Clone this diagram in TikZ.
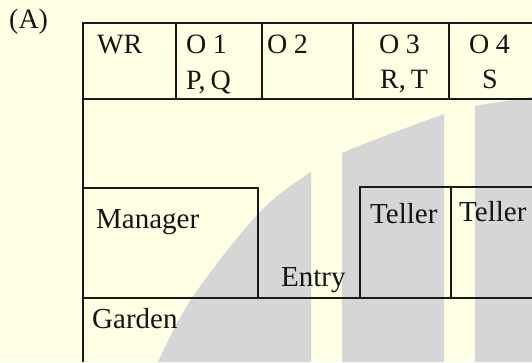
\documentclass[tikz,border=0pt]{standalone}
\usepackage{fontspec}
\setmainfont{Liberation Serif}
\definecolor{paper}{HTML}{FFFFE3}
\definecolor{wmgray}{HTML}{D6D6D6}
\newcommand{\gapO}{\hspace{6.5pt}}
\begin{document}
\begin{tikzpicture}[x=1pt,y=-1pt,
  wall/.style={draw=black!90,line width=1.3pt},
  lbl/.style={anchor=base west,inner sep=0pt,font=\fontsize{28}{28}\selectfont,text=black!92},
  wordlbl/.style={lbl,font=\fontsize{29}{29}\selectfont}]
\useasboundingbox (0,0) rectangle (532,362);
\fill[paper] (0,0) rectangle (532,362);
% watermark bands
\begin{scope}
  \clip (0,0) rectangle (311,362) (342,0) rectangle (444,362) (475,0) rectangle (532,362);
  \fill[wmgray] plot[smooth,tension=0.6] coordinates {(158,362) (192,298) (258,214) (309,173) (342,153) (444,114) (475,106) (532,97)} -- (532,362) -- cycle;
\end{scope}
% plan
\draw[wall] (532,23) -- (83,23) -- (83,362);
\draw[wall] (83,99) -- (532,99);
\draw[wall] (176,23) -- (176,99);
\draw[wall] (262,23) -- (262,99);
\draw[wall] (353,23) -- (353,99);
\draw[wall] (449,23) -- (449,99);
\draw[wall] (83,188) -- (258,188) -- (258,298);
\draw[wall] (360,298) -- (360,187) -- (532,187);
\draw[wall] (451,187) -- (451,298);
\draw[wall] (83,298) -- (532,298);
% labels
\node[lbl] (a) at (9,28) {(A)};
\node[lbl] (wr) at (97,53) {WR};
\node[lbl] (o1) at (186,53) {O\gapO 1};
\node[lbl] (pq) at (186,89) {P,\hspace{5pt}Q};
\node[lbl] (o2) at (267,53) {O\gapO 2};
\node[lbl] (o3) at (379,53) {O\gapO 3};
\node[lbl] (rt) at (380,88) {R,\hspace{5pt}T};
\node[lbl] (o4) at (469,53) {O\gapO 4};
\node[lbl] (s) at (482,88) {S};
\node[wordlbl] (mg) at (96,228) {Manager};
\node[wordlbl] (gd) at (92,328) {Garden};
\node[wordlbl] (en) at (281,286) {Entry};
\node[wordlbl] (t1) at (370,223) {Teller};
\node[wordlbl] (t2) at (459,221) {Teller};
\end{tikzpicture}
\end{document}
